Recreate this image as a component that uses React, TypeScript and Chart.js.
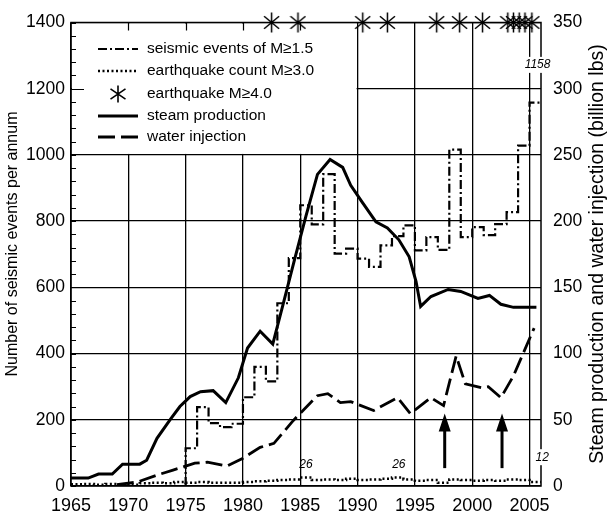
import React, { useEffect, useRef } from 'react';
import { Chart, registerables } from 'chart.js';

Chart.register(...registerables);

// ---------- data ----------
const seismicYears = [1975, 1976, 1977, 1978, 1979, 1980, 1981, 1982, 1983, 1984, 1985, 1986, 1987, 1988, 1989, 1990, 1991, 1992, 1993, 1994, 1995, 1996, 1997, 1998, 1999, 2000, 2001, 2002, 2003, 2004, 2005];
const seismicM15 = [114, 238, 190, 178, 188, 268, 360, 316, 552, 688, 848, 790, 942, 702, 717, 687, 662, 727, 755, 787, 712, 752, 713, 1016, 752, 782, 758, 791, 827, 1028, 1158];

const countYears = [1965, 1966, 1967, 1968, 1969, 1970, 1971, 1972, 1973, 1974, 1975, 1976, 1977, 1978, 1979, 1980, 1981, 1982, 1983, 1984, 1985, 1986, 1987, 1988, 1989, 1990, 1991, 1992, 1993, 1994, 1995, 1996, 1997, 1998, 1999, 2000, 2001, 2002, 2003, 2004, 2005];
const countM30 = [5, 6, 4, 6, 5, 4, 8, 10, 8, 12, 10, 12, 10, 10, 10, 12, 14, 16, 18, 20, 26, 18, 20, 18, 22, 18, 20, 22, 26, 20, 16, 18, 10, 20, 18, 16, 18, 16, 20, 18, 12];

const quakeM4Years = [1982.5, 1984.8, 1990.45, 1992.6, 1996.9, 1998.9, 2000.9, 2003.1, 2003.6, 2004.1, 2004.6, 2005.2];

const steamYears = [1965.0, 1966.5, 1967.4, 1968.6, 1969.5, 1971.0, 1971.6, 1972.5, 1973.65, 1974.5, 1975.4, 1976.3, 1977.4, 1978.5, 1979.6, 1980.4, 1981.5, 1982.6, 1983.5, 1984.5, 1985.5, 1986.5, 1987.6, 1988.7, 1989.4, 1990.4, 1991.6, 1992.6, 1993.6, 1994.5, 1995.1, 1995.5, 1996.4, 1997.9, 1999.0, 2000.5, 2001.5, 2002.5, 2003.6, 2005.6];
const steamProduction = [6.0, 6.0, 9.0, 9.0, 16.5, 16.5, 19.5, 36.0, 50.2, 60.0, 67.5, 71.2, 72.0, 63.0, 81.7, 104.2, 116.9, 107.2, 137.2, 170.9, 203.9, 235.3, 246.6, 240.6, 227.1, 214.3, 199.4, 194.9, 185.9, 173.1, 154.4, 135.6, 143.1, 148.4, 146.9, 141.6, 143.9, 137.2, 134.9, 134.9];

const waterYears = [1969.0, 1970.8, 1972.5, 1973.9, 1975.0, 1975.8, 1976.9, 1978.6, 1980.0, 1981.5, 1982.7, 1984.4, 1986.5, 1987.4, 1988.5, 1989.4, 1991.4, 1993.5, 1994.6, 1996.4, 1997.5, 1998.6, 1999.4, 2000.8, 2001.4, 2002.5, 2003.6, 2005.4];
const waterInjection = [1.0, 3.0, 8.2, 12.0, 15.0, 17.2, 18.0, 15.0, 21.0, 29.2, 32.2, 49.5, 68.2, 69.7, 63.0, 63.7, 57.0, 66.7, 54.7, 66.7, 60.7, 98.2, 77.2, 74.2, 75.0, 66.7, 83.2, 119.2];

const xTickYears = [1965, 1970, 1975, 1980, 1985, 1990, 1995, 2000, 2005];

const noteTexts = ['26', '26', '1158', '12'];
const noteYears = [1985.5, 1993.6, 2005.7, 2006.1];
const noteValues = [63, 63, 1272, 87];

const arrowYears = [1997.6, 2002.6];
const arrowFrom = 54;
const arrowTo = 219;

const legendLabels = ['seismic events of M\u22651.5', 'earthquake count M\u22653.0', 'earthquake M\u22654.0', 'steam production', 'water injection'];
const leftTitle = 'Number of seismic events per annum';
const rightTitle = 'Steam production and water injection (billion lbs)';

const FONT = "'Liberation Sans', Arial, sans-serif";
const DASH_DOT = [9, 3, 2, 3];
const DOTS = [2, 2.5];
const LONG_DASH = [17, 6];

function makeAsterisk(w: number, h: number, lw: number) {
  const c = document.createElement('canvas');
  c.width = w;
  c.height = h;
  const g = c.getContext('2d')!;
  g.strokeStyle = '#000';
  g.lineWidth = lw;
  g.beginPath();
  g.moveTo(w / 2, 0.5);
  g.lineTo(w / 2, h - 0.5);
  g.moveTo(1, h * 0.2);
  g.lineTo(w - 1, h * 0.8);
  g.moveTo(w - 1, h * 0.2);
  g.lineTo(1, h * 0.8);
  g.stroke();
  return c;
}

function drawAsterisk(ctx: CanvasRenderingContext2D, x: number, y: number, w: number, h: number, lw: number) {
  ctx.save();
  ctx.strokeStyle = '#000';
  ctx.lineWidth = lw;
  ctx.beginPath();
  ctx.moveTo(x, y - h / 2);
  ctx.lineTo(x, y + h / 2);
  ctx.moveTo(x - w / 2, y - h * 0.3);
  ctx.lineTo(x + w / 2, y + h * 0.3);
  ctx.moveTo(x + w / 2, y - h * 0.3);
  ctx.lineTo(x - w / 2, y + h * 0.3);
  ctx.stroke();
  ctx.restore();
}

const decorPlugin = {
  id: 'decor',
  beforeDatasetsDraw(chart: any) {
    const { ctx, chartArea: a, scales } = chart;
    const xs = scales.x;
    const ys = scales.y;
    ctx.save();
    // legend box (white, covering grid)
    const bx1 = xs.getPixelForValue(1990);
    const by1 = ys.getPixelForValue(1000);
    ctx.fillStyle = '#fff';
    ctx.fillRect(a.left + 1, a.top + 1, bx1 - a.left - 2, by1 - a.top - 2);
    // frame
    ctx.strokeStyle = '#000';
    ctx.lineWidth = 1.5;
    ctx.strokeRect(a.left, a.top, a.right - a.left, a.bottom - a.top);
    // minor ticks on left axis
    ctx.lineWidth = 1.2;
    ctx.beginPath();
    for (let v = 0; v <= 1400; v += 40) {
      const y = Math.round(ys.getPixelForValue(v)) + 0.5;
      ctx.moveTo(a.left, y);
      ctx.lineTo(a.left + 5, y);
    }
    const y1200 = Math.round(ys.getPixelForValue(1200)) + 0.5;
    ctx.moveTo(a.left, y1200);
    ctx.lineTo(a.left + 13, y1200);
    for (const yr of [1970, 1975, 1980, 1985]) {
      const x = Math.round(xs.getPixelForValue(yr)) + 0.5;
      ctx.moveTo(x, a.top);
      ctx.lineTo(x, a.top + 8);
    }
    ctx.stroke();
    ctx.restore();
  },
  afterDatasetsDraw(chart: any) {
    const { ctx, scales } = chart;
    const xs = scales.x;
    const ys = scales.y;
    ctx.save();
    // notes
    ctx.font = `italic 12px ${FONT}`;
    ctx.textAlign = 'center';
    ctx.textBaseline = 'middle';
    noteTexts.forEach((t, i) => {
      const x = xs.getPixelForValue(noteYears[i]);
      const y = ys.getPixelForValue(noteValues[i]);
      const w = ctx.measureText(t).width;
      if (i >= 2) {
        ctx.fillStyle = '#fff';
        ctx.fillRect(x - w / 2 - 1, y - 8, w + 2, 16);
      }
      ctx.fillStyle = '#000';
      ctx.fillText(t, x, y);
    });
    // arrows
    ctx.fillStyle = '#000';
    ctx.strokeStyle = '#000';
    arrowYears.forEach((yr) => {
      const x = xs.getPixelForValue(yr);
      const yb = ys.getPixelForValue(arrowFrom);
      const yt = ys.getPixelForValue(arrowTo);
      ctx.lineWidth = 3;
      ctx.setLineDash([]);
      ctx.beginPath();
      ctx.moveTo(x, yb);
      ctx.lineTo(x, yt + 12);
      ctx.stroke();
      ctx.beginPath();
      ctx.moveTo(x, yt);
      ctx.lineTo(x - 6, yt + 18);
      ctx.lineTo(x + 6, yt + 18);
      ctx.closePath();
      ctx.fill();
    });
    // legend
    const lx0 = 98;
    const lx1 = 138;
    const tx = 147;
    const rows = [49, 71, 94, 116, 137];
    ctx.font = `15.5px ${FONT}`;
    ctx.textAlign = 'left';
    ctx.textBaseline = 'middle';
    const styles = [
      { dash: DASH_DOT, w: 2.2 },
      { dash: DOTS, w: 2.5 },
      null,
      { dash: [], w: 3 },
      { dash: LONG_DASH, w: 2.8 },
    ];
    rows.forEach((ry, i) => {
      const s = styles[i];
      if (s) {
        ctx.lineWidth = s.w;
        ctx.setLineDash(s.dash);
        ctx.beginPath();
        ctx.moveTo(lx0, ry);
        ctx.lineTo(lx1, ry);
        ctx.stroke();
        ctx.setLineDash([]);
      } else {
        drawAsterisk(ctx, 118, ry, 15, 17, 1.6);
      }
      ctx.fillStyle = '#000';
      ctx.fillText(legendLabels[i], tx, ry);
    });
    // axis titles (both read bottom-to-top)
    ctx.textAlign = 'center';
    ctx.textBaseline = 'middle';
    ctx.fillStyle = '#000';
    ctx.save();
    ctx.translate(13, 244);
    ctx.rotate(-Math.PI / 2);
    ctx.font = `16px ${FONT}`;
    ctx.fillText(leftTitle, 0, 0);
    ctx.restore();
    ctx.save();
    ctx.translate(598, 254);
    ctx.rotate(-Math.PI / 2);
    ctx.font = `19.5px ${FONT}`;
    ctx.fillText(rightTitle, 0, 0);
    ctx.restore();
    ctx.restore();
  },
};

export default function App() {
  const ref = useRef<HTMLCanvasElement>(null);
  useEffect(() => {
    const canvas = ref.current!;
    const asterisk = makeAsterisk(17, 21, 1.5);
    const seismicData = seismicYears.map((x, i) => ({ x, y: seismicM15[i] }));
    seismicData.unshift({ x: seismicYears[0], y: 0 });
    seismicData.push({ x: 2006, y: seismicM15[seismicM15.length - 1] });
    const countData = countYears.map((x, i) => ({ x, y: countM30[i] }));
    countData.push({ x: 2006, y: countM30[countM30.length - 1] });

    const chart = new Chart(canvas, {
      type: 'line',
      data: {
        datasets: [
          {
            label: 'seismic events of M≥1.5',
            data: seismicData,
            yAxisID: 'y',
            stepped: true,
            borderColor: '#000',
            borderWidth: 2.2,
            borderDash: DASH_DOT,
            pointRadius: 0,
            fill: false,
          },
          {
            label: 'earthquake count M≥3.0',
            data: countData,
            yAxisID: 'y',
            stepped: true,
            borderColor: '#000',
            borderWidth: 2.5,
            borderDash: DOTS,
            pointRadius: 0,
            fill: false,
          },
          {
            label: 'steam production',
            data: steamYears.map((x, i) => ({ x, y: steamProduction[i] })),
            yAxisID: 'y2',
            borderColor: '#000',
            borderWidth: 3,
            pointRadius: 0,
            tension: 0,
            fill: false,
          },
          {
            label: 'water injection',
            data: waterYears.map((x, i) => ({ x, y: waterInjection[i] })),
            yAxisID: 'y2',
            borderColor: '#000',
            borderWidth: 2.8,
            borderDash: LONG_DASH,
            pointRadius: 0,
            tension: 0,
            fill: false,
          },
          {
            label: 'earthquake M≥4.0',
            data: quakeM4Years.map((x) => ({ x, y: 1400 })),
            yAxisID: 'y',
            showLine: false,
            pointStyle: asterisk as any,
            pointRadius: 10,
            clip: false as any,
          },
        ],
      },
      options: {
        animation: false,
        responsive: false,
        events: [],
        layout: { padding: { top: 19, left: 0, right: 0, bottom: 0 } },
        plugins: { legend: { display: false }, tooltip: { enabled: false } },
        scales: {
          x: {
            type: 'linear',
            min: 1965,
            max: 2006,
            afterBuildTicks: (s: any) => {
              s.ticks = xTickYears.map((v) => ({ value: v }));
            },
            afterFit: (s: any) => {
              s.height = 29;
            },
            grid: { color: '#000', lineWidth: 1.3, drawTicks: false },
            border: { display: false },
            ticks: {
              autoSkip: false,
              maxRotation: 0,
              padding: 9,
              color: '#000',
              font: { family: FONT, size: 18 },
              callback: (v: any) => String(v),
            },
          },
          y: {
            type: 'linear',
            position: 'left',
            min: 0,
            max: 1400,
            afterFit: (s: any) => {
              s.width = 71;
            },
            grid: { color: '#000', lineWidth: 1.3, drawTicks: false },
            border: { display: false },
            ticks: {
              stepSize: 200,
              padding: 6,
              color: '#000',
              font: { family: FONT, size: 17.5 },
              callback: (v: any) => String(v),
            },
          },
          y2: {
            type: 'linear',
            position: 'right',
            min: 0,
            max: 350,
            afterFit: (s: any) => {
              s.width = 70;
            },
            grid: { display: false, drawTicks: false },
            border: { display: false },
            ticks: {
              stepSize: 50,
              padding: 12,
              color: '#000',
              font: { family: FONT, size: 17.5 },
              callback: (v: any) => String(v),
            },
          },
        },
      },
      plugins: [decorPlugin],
    });
    return () => chart.destroy();
  }, []);
  return (
    <div style={{ position: 'fixed', left: 0, top: 0, width: 611, height: 515, background: '#fff' }}>
      <canvas ref={ref} width={611} height={515} style={{ display: 'block', width: 611, height: 515 }} />
    </div>
  );
}
